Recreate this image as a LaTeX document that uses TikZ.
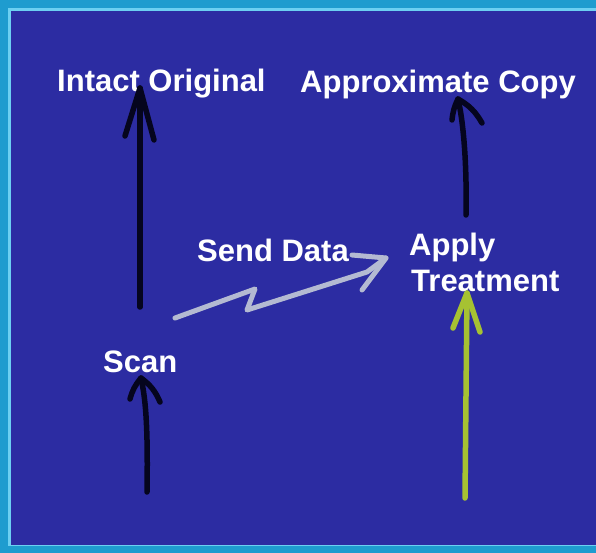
\documentclass[tikz,border=0pt]{standalone}
\usepackage{fontspec}
\setmainfont{Liberation Sans}
\usetikzlibrary{calc}

\definecolor{slide}{HTML}{2C2CA2}
\definecolor{frameouter}{HTML}{1E9CCF}
\definecolor{frameinner}{HTML}{6CD0F2}
\definecolor{ink}{HTML}{05051E}
\definecolor{wire}{HTML}{B4BAD2}
\definecolor{lime}{HTML}{A6C232}

\tikzset{
  label/.style={font=\bfseries\fontsize{31}{36}\selectfont, text=white,
                inner sep=0pt, anchor=base west},
  stroke/.style={line width=5.5pt, line cap=round, line join=round},
  blackstroke/.style={stroke, draw=ink},
  limestroke/.style={stroke, draw=lime},
  wirestroke/.style={stroke, line width=5pt, draw=wire},
}

\begin{document}
\begin{tikzpicture}[x=1pt, y=-1pt]
  % slide background and frame
  \fill[frameouter] (0,0) rectangle (596,553);
  \fill[frameinner] (8,8) rectangle (596,546);
  \fill[slide] (11,11) rectangle (596,545);
  \useasboundingbox (0,0) rectangle (596,553);

  % labels
  \node[label] (orig) at (57,92) {Intact Original};
  \node[label] (copy) at (300,93) {Approximate Copy};
  \node[label] (send) at (197,261) {Send Data};
  \node[label] (apply) at (409,255) {Apply};
  \node[label] (treat) at (411,291) {Treatment};
  \node[label] (scan) at (103,372) {Scan};

  % ends of the strokes
  \coordinate (origfoot) at (140,307);
  \coordinate (origtip) at (140,88);
  \coordinate (scanfoot) at (147,492);
  \coordinate (scantip) at (141,378);
  \coordinate (copyfoot) at (466,215);
  \coordinate (copytip) at (458,99);
  \coordinate (treatfoot) at (465,498);
  \coordinate (treattip) at (467,293);
  \coordinate (sendfoot) at (175,318);
  \coordinate (sendtip) at (386,258);

  % scanned original stays intact
  \draw[blackstroke] (origfoot) -- (origtip);
  \draw[blackstroke] ($(origtip)+(-15,48)$) -- (origtip) -- ($(origtip)+(14,52)$);

  % scan step
  \draw[blackstroke] (scanfoot) .. controls (148,430) and (146,400) .. (scantip);
  \draw[blackstroke] ($(scantip)+(-11,21)$) to[bend left=12] (scantip)
        to[bend left=15] ($(scantip)+(19,24)$);

  % treatment yields the copy
  \draw[blackstroke] (copyfoot) .. controls (467,160) and (463,120) .. (copytip);
  \draw[blackstroke] ($(copytip)+(-6,21)$) to[bend left=10] (copytip)
        to[bend left=15] ($(copytip)+(24,24)$);

  % treatment input
  \draw[limestroke] (treatfoot) -- (treattip);
  \draw[limestroke] ($(treattip)+(-14,35)$) -- (treattip) -- ($(treattip)+(13,39)$);

  % data link
  \draw[wirestroke] (sendfoot) -- (255,289) -- (247,310) -- (367,272) -- (sendtip);
  \draw[wirestroke] (352,255) -- (sendtip) -- (362,290);
\end{tikzpicture}
\end{document}
